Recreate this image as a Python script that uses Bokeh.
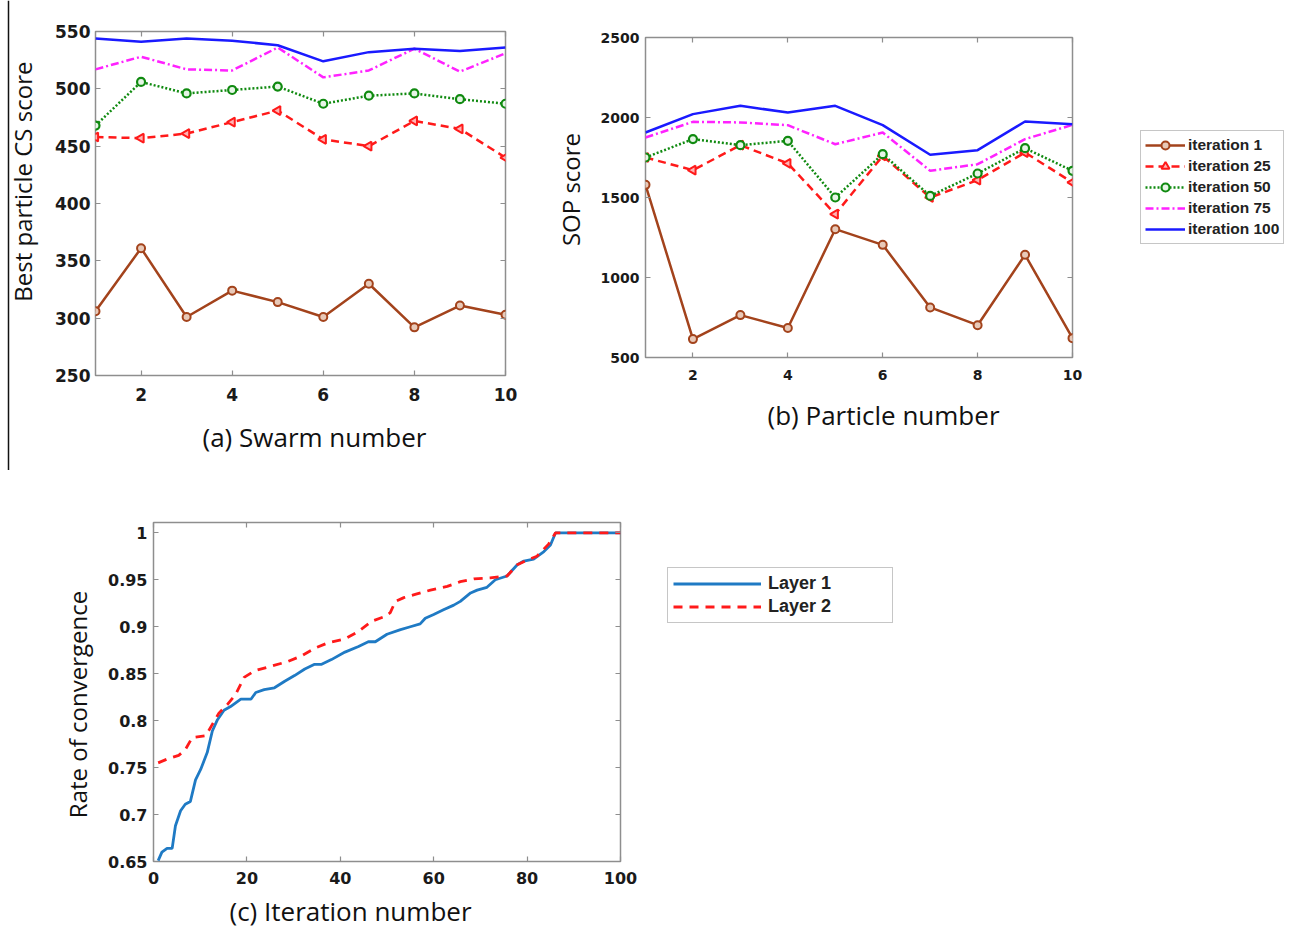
from bokeh.plotting import figure
from bokeh.models import (Legend, LegendItem, LinearAxis, FixedTicker, Range1d,
                          NumeralTickFormatter, Title, Label, Span)
from bokeh.layouts import column, row
from bokeh.embed import file_html
from bokeh.resources import INLINE
import math

# ---------------- data ----------------
swarm = [1, 2, 3, 4, 5, 6, 7, 8, 9, 10]
cs_iter1 = [306, 361, 301, 324, 314, 301, 330, 292, 311, 303]
cs_iter25 = [458, 457, 461, 471, 481, 456, 450, 472, 465, 440]
cs_iter50 = [468, 506, 496, 499, 502, 487, 494, 496, 491, 487]
cs_iter75 = [517, 528, 517, 516, 536, 510, 516, 535, 515, 531]
cs_iter100 = [544, 541, 544, 542, 538, 524, 532, 535, 533, 536]

particle = [1, 2, 3, 4, 5, 6, 7, 8, 9, 10]
sop_iter1 = [1579, 615, 765, 684, 1302, 1204, 813, 702, 1142, 621]
sop_iter25 = [1750, 1671, 1827, 1713, 1396, 1760, 1500, 1609, 1781, 1594]
sop_iter50 = [1750, 1865, 1827, 1854, 1500, 1771, 1510, 1650, 1808, 1667]
sop_iter75 = [1875, 1973, 1969, 1952, 1833, 1906, 1667, 1708, 1865, 1954]
sop_iter100 = [1906, 2021, 2073, 2031, 2073, 1952, 1767, 1796, 1975, 1958]

layer1_x = [1, 1.8, 2.9, 4, 4.7, 5.8, 6.8, 7.9, 9, 10.1, 11.5, 12.6, 13.7, 15.1,
            16.5, 18.7, 20.9, 21.9, 23.7, 25.9, 28.1, 30.2, 32.4, 34.5, 36, 38.1,
            41, 43.9, 46, 47.5, 50, 52.9, 55, 57.1, 58.2, 60, 62.1, 64.3, 65.7,
            67.9, 69.3, 71.4, 73.2, 75.7, 77.9, 79.3, 81.4, 83.6, 85, 86.1, 100]
layer1_y = [0.651, 0.660, 0.664, 0.664, 0.688, 0.704, 0.711, 0.714, 0.737, 0.748,
            0.766, 0.789, 0.801, 0.811, 0.815, 0.823, 0.823, 0.830, 0.833, 0.835,
            0.842, 0.848, 0.855, 0.860, 0.860, 0.865, 0.873, 0.879, 0.884, 0.884,
            0.892, 0.897, 0.900, 0.903, 0.909, 0.913, 0.918, 0.923, 0.927, 0.936,
            0.939, 0.942, 0.950, 0.954, 0.966, 0.970, 0.972, 0.980, 0.987, 1.0, 1.0]
layer2_x = [1, 2.9, 5.4, 6.8, 8.3, 11.2, 12.6, 14, 15.8, 17.6, 19.4, 21.6, 25.2,
            28.8, 31.7, 34.5, 37.4, 41, 43.9, 46.8, 49.6, 50.7, 51.8, 53.6, 56.4,
            59.3, 62.9, 65.7, 68.6, 72.1, 75.7, 77.9, 80, 82.1, 84.6, 86.1, 100]
layer2_y = [0.755, 0.759, 0.763, 0.769, 0.782, 0.784, 0.796, 0.808, 0.817, 0.828,
            0.846, 0.853, 0.858, 0.863, 0.869, 0.877, 0.883, 0.887, 0.895, 0.906,
            0.911, 0.915, 0.927, 0.931, 0.935, 0.939, 0.943, 0.948, 0.951, 0.952,
            0.954, 0.966, 0.971, 0.975, 0.988, 1.0, 1.0]

ticks_ab_x = [2, 4, 6, 8, 10]
ticks_a_y = [250, 300, 350, 400, 450, 500, 550]
ticks_b_y = [500, 1000, 1500, 2000, 2500]
ticks_c_x = [0, 20, 40, 60, 80, 100]
ticks_c_y = [0.65, 0.7, 0.75, 0.8, 0.85, 0.9, 0.95, 1.0]

# ---------------- styles ----------------
BROWN = "#a3431c"
RED = "#ff1a1a"
GREEN = "#108a10"
MAGENTA = "#ff22ff"
BLUE = "#1a1aff"
LAYER1 = "#1f7ac4"
FRAME = "#8e8e8e"
TICKFONT = "DejaVu Sans"
LABELFONT = "Open Sans"
LEGFONT = "Liberation Sans"
TOP_H = 470
BOT_H = 462


def style(p, xt, yt, tick_size, tick_x_standoff, tick_y_standoff, fmt=None):
    p.outline_line_color = FRAME
    p.outline_line_width = 1.5
    p.xgrid.visible = False
    p.ygrid.visible = False
    for ax in (p.xaxis[0], p.yaxis[0]):
        ax.axis_line_color = None
        ax.major_tick_in = 5
        ax.major_tick_out = 0
        ax.major_tick_line_color = FRAME
        ax.major_tick_line_width = 1.2
        ax.minor_tick_line_color = None
        ax.major_label_text_font = TICKFONT
        ax.major_label_text_font_style = "bold"
        ax.major_label_text_font_size = tick_size
        ax.major_label_text_color = "#1a1a1a"
    p.xaxis[0].ticker = FixedTicker(ticks=xt)
    p.yaxis[0].ticker = FixedTicker(ticks=yt)
    p.xaxis[0].major_label_standoff = tick_x_standoff
    p.yaxis[0].major_label_standoff = tick_y_standoff
    if fmt is not None:
        p.yaxis[0].formatter = fmt
    # mirrored ticks on top and right (MATLAB box style)
    for loc, t in (("above", xt), ("right", yt)):
        ax = LinearAxis(ticker=FixedTicker(ticks=t))
        ax.axis_line_color = None
        ax.major_tick_in = 5
        ax.major_tick_out = 0
        ax.major_tick_line_color = FRAME
        ax.major_tick_line_width = 1.2
        ax.minor_tick_line_color = None
        ax.major_label_text_font_size = "0px"
        ax.major_label_standoff = 0
        p.add_layout(ax, loc)


def caption(p, text, offset, standoff):
    t = Title(text=text, align="left", offset=offset, standoff=standoff,
              text_font=LABELFONT, text_font_size="26px",
              text_font_style="normal", text_color="#111111")
    p.add_layout(t, "below")


def ylabel_holder(text, width, height, cx, cy, edge_line=None):
    q = figure(width=width, height=height, x_range=Range1d(0, width),
               y_range=Range1d(0, height), x_axis_type=None, y_axis_type=None,
               output_backend="svg", toolbar_location=None, min_border=0)
    q.outline_line_color = None
    q.add_layout(Label(x=cx, y=cy, x_units="screen", y_units="screen",
                       text=text, angle=math.pi / 2, text_align="center",
                       text_baseline="middle", text_font=LABELFONT,
                       text_font_size="24px", text_color="#111111"))
    if edge_line is not None:
        q.add_layout(Span(location=edge_line, dimension="height",
                          line_color="#111111", line_width=1.5))
    return q


def series_plot(p, x, s1, s25, s50, s75, s100):
    r1l = p.line(x, s1, line_color=BROWN, line_width=2.5)
    r1m = p.scatter(x, s1, marker="circle", size=8, line_color=BROWN,
                    line_width=2, fill_color="#e8c9b8")
    r25l = p.line(x, s25, line_color=RED, line_width=2.5, line_dash="8 5")
    r25m = p.scatter(x, s25, marker="triangle", angle=1.5708, size=9,
                     line_color=RED, line_width=2, fill_color="#ffb3b3")
    r50l = p.line(x, s50, line_color=GREEN, line_width=2.5, line_dash="2 2")
    r50m = p.scatter(x, s50, marker="circle", size=8, line_color=GREEN,
                     line_width=2.2, fill_color="#e6f5e6")
    r75l = p.line(x, s75, line_color=MAGENTA, line_width=2.5,
                  line_dash="8 3 2 3")
    r100l = p.line(x, s100, line_color=BLUE, line_width=2.5)
    return [
        LegendItem(label="iteration 1", renderers=[r1l, r1m]),
        LegendItem(label="iteration 25", renderers=[r25l, r25m]),
        LegendItem(label="iteration 50", renderers=[r50l, r50m]),
        LegendItem(label="iteration 75", renderers=[r75l]),
        LegendItem(label="iteration 100", renderers=[r100l]),
    ]


def legend_style(leg, font_size, glyph_w, row_h, spacing, pad, standoff,
                 label_w):
    leg.label_text_font = LEGFONT
    leg.label_text_font_style = "bold"
    leg.label_text_font_size = font_size
    leg.label_text_color = "#222222"
    leg.glyph_width = glyph_w
    leg.glyph_height = row_h
    leg.label_height = row_h
    leg.label_width = label_w
    leg.spacing = spacing
    leg.padding = pad
    leg.margin = 0
    leg.label_standoff = standoff
    leg.border_line_color = FRAME
    leg.border_line_width = 1.5
    leg.background_fill_color = "white"


def legend_holder(width, height):
    q = figure(width=width, height=height, x_range=Range1d(-100, -99),
               y_range=Range1d(-100, -99), x_axis_type=None, y_axis_type=None,
               output_backend="svg", toolbar_location=None, min_border=0)
    q.outline_line_color = None
    return q


# ---------------- panel (a) ----------------
ya = ylabel_holder("Best particle  CS score", 40, TOP_H, 22, TOP_H - 178,
                   edge_line=8)
pa = figure(width=510, height=TOP_H, x_range=Range1d(1, 10),
            y_range=Range1d(250, 550), output_backend="svg",
            toolbar_location=None, min_border_left=55, min_border_right=45,
            min_border_top=31, min_border_bottom=TOP_H - 31 - 344)
series_plot(pa, swarm, cs_iter1, cs_iter25, cs_iter50, cs_iter75, cs_iter100)
style(pa, ticks_ab_x, ticks_a_y, "17px", 12, 5)
caption(pa, "(a)  Swarm number", 107, 26)

# ---------------- panel (b) ----------------
yb = ylabel_holder("SOP score", 40, TOP_H, 20, TOP_H - 189)
pb = figure(width=492, height=TOP_H, x_range=Range1d(1, 10),
            y_range=Range1d(500, 2500), output_backend="svg",
            toolbar_location=None, min_border_left=55, min_border_right=10,
            min_border_top=37, min_border_bottom=TOP_H - 37 - 320)
series_plot(pb, particle, sop_iter1, sop_iter25, sop_iter50, sop_iter75,
            sop_iter100)
style(pb, ticks_ab_x, ticks_b_y, "14px", 12, 6)
caption(pb, "(b)  Particle number", 122, 24)

# legend of (b), drawn with off-range copies of the same series
lb = legend_holder(207, TOP_H)
items_b = series_plot(lb, particle, sop_iter1, sop_iter25, sop_iter50,
                      sop_iter75, sop_iter100)
leg_b = Legend(items=items_b, location=(58, TOP_H - 244))
legend_style(leg_b, "15.5px", 40, 20, 1, 4, 3, 20)
lb.add_layout(leg_b)

# ---------------- panel (c) ----------------
yc = ylabel_holder("Rate of convergence", 95, BOT_H, 77, 932 - 704)
pc = figure(width=550, height=BOT_H, x_range=Range1d(0, 100),
            y_range=Range1d(0.65, 1.011), output_backend="svg",
            toolbar_location=None, min_border_left=58, min_border_right=25,
            min_border_top=522 - TOP_H, min_border_bottom=BOT_H - 52 - 341)
pc.line(layer1_x, layer1_y, line_color=LAYER1, line_width=2.8)
pc.line(layer2_x, layer2_y, line_color=RED, line_width=2.8, line_dash="9 7")
style(pc, ticks_c_x, ticks_c_y, "16px", 10, 6,
      fmt=NumeralTickFormatter(format="0.[00]"))
caption(pc, "(c)  Iteration number", 76, 8)

lc = legend_holder(265, BOT_H)
rl1 = lc.line(layer1_x, layer1_y, line_color=LAYER1, line_width=2.8)
rl2 = lc.line(layer2_x, layer2_y, line_color=RED, line_width=2.8,
              line_dash="9 7")
leg_c = Legend(items=[LegendItem(label="Layer 1", renderers=[rl1]),
                      LegendItem(label="Layer 2", renderers=[rl2])],
               location=(22, 932 - 623))
legend_style(leg_c, "18px", 88, 21, 2, 5, 7, 119)
lc.add_layout(leg_c)

layout = column(row(column(ya), column(pa), column(yb), column(pb),
                    column(lb)),
                row(column(yc), column(pc), column(lc)))
open("out.html", "w").write(file_html(layout, INLINE))
